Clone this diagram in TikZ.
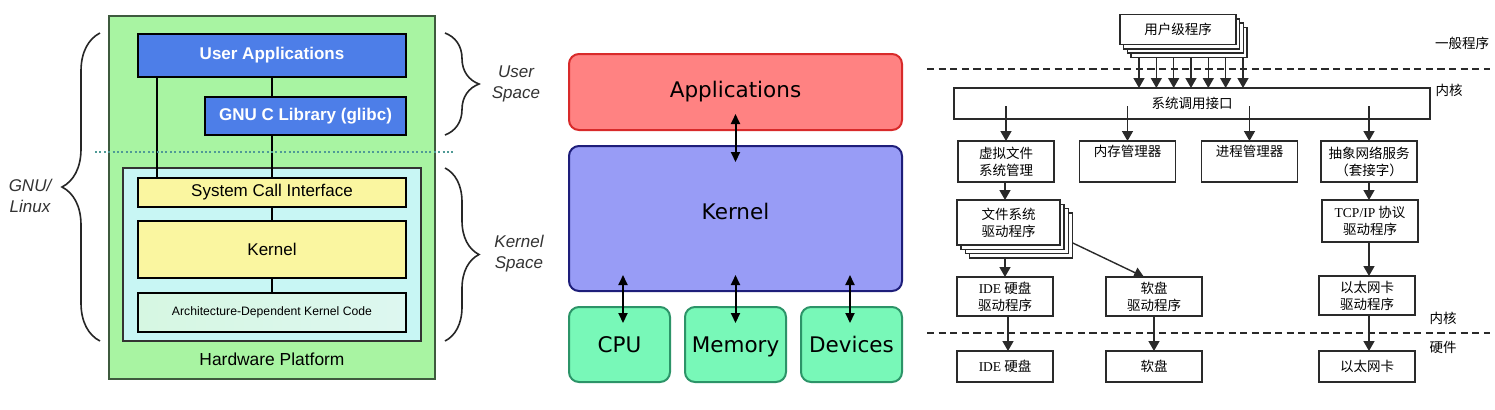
\documentclass[tikz,border=0pt]{standalone}
\usepackage{fontspec}
\setmainfont{Liberation Sans}
\newfontfamily\dvs{DejaVu Sans}
\newfontfamily\cjk{Noto Sans CJK SC}
\newfontfamily\lser{Liberation Serif}
\usetikzlibrary{calc,arrows.meta,decorations.pathreplacing}
\definecolor{hwgreen}{HTML}{A8F4A2}
\definecolor{hwborder}{HTML}{3E5A3E}
\definecolor{ublue}{HTML}{4D7EE8}
\definecolor{kcyan}{HTML}{C8F6F4}
\definecolor{kyellow}{HTML}{FAF6A0}
\definecolor{archg}{HTML}{D6F7E2}
\definecolor{archc}{HTML}{DDF7F0}
\definecolor{dotteal}{HTML}{4F9A96}
\definecolor{lbl}{HTML}{333333}
\definecolor{appred}{HTML}{FF8282}
\definecolor{appborder}{HTML}{D82A2A}
\definecolor{kernblue}{HTML}{989CF6}
\definecolor{kernborder}{HTML}{1E1E7A}
\definecolor{hwmint}{HTML}{78F8B8}
\definecolor{mintborder}{HTML}{2C9468}
\definecolor{p3line}{HTML}{2A2A2A}
\tikzset{
  p1box/.style={draw=black, line width=1pt, inner sep=0pt, outer sep=0pt},
  p1blue/.style={p1box, fill=ublue, text=white, font=\fontsize{8.5}{10}\selectfont\bfseries},
  p1yel/.style={p1box, fill=kyellow, font=\fontsize{8.5}{10}\selectfont},
  p1lbl/.style={text=lbl, font=\fontsize{8.5}{10.5}\selectfont\itshape, align=center},
  p1link/.style={line width=1pt, draw=black},
  p1brace/.style={draw=black!85, line width=0.8pt, decorate},
  p2box/.style={rounded corners=5pt, line width=1pt, inner sep=0pt, outer sep=0pt, font=\dvs\fontsize{10.75}{13}\selectfont},
  p2arr/.style={line width=1pt, {Triangle[length=5pt,width=4.5pt]}-{Triangle[length=5pt,width=4.5pt]}},
  p3box/.style={draw=p3line, line width=0.75pt, fill=white, inner sep=0pt, outer sep=0pt, align=center, font=\cjk\fontsize{6.75}{8.5}\selectfont},
  p3arr/.style={draw=p3line, line width=0.7pt, -{Triangle[length=5pt,width=5.5pt]}},
  p3dash/.style={draw=p3line, line width=0.7pt, dash pattern=on 3.6pt off 2.2pt},
  p3lbl/.style={font=\cjk\fontsize{6.75}{8.5}\selectfont}
}
\begin{document}
\begin{tikzpicture}[x=0.5pt,y=-0.5pt]
\useasboundingbox (0,0) rectangle (1495,409);
\fill[white] (0,0) rectangle (1495,409);

% ================= Panel 1 =================
\node[draw=hwborder, line width=1pt, fill=hwgreen, minimum width=163pt, minimum height=181.5pt, inner sep=0pt] (hw) at (272,197.5) {};
\node[font=\fontsize{8.7}{10}\selectfont] (hwt) at (272,359) {Hardware Platform};
\node[draw=black!80, line width=0.8pt, fill=kcyan, minimum width=149pt, minimum height=86.5pt, inner sep=0pt] (ks) at (272,254.5) {};
\node[p1blue, minimum width=134pt, minimum height=21.5pt] (ua) at (272,55.5) {User Applications};
\node[p1blue, minimum width=100.5pt, minimum height=19pt] (glibc) at (305.5,116) {GNU C Library (glibc)};
\node[p1yel, minimum width=134pt, minimum height=14.5pt] (sci) at (272,192.5) {System Call Interface};
\node[p1yel, minimum width=134pt, minimum height=28.5pt] (kern) at (272,249.5) {Kernel};
\node[p1box, left color=archg, right color=archc, minimum width=134pt, minimum height=19.5pt, font=\fontsize{6.1}{7}\selectfont] (arch) at (272,312.5) {Architecture-Dependent Kernel Code};
\coordinate (xa) at (157,0);
\coordinate (xb) at (272,0);
\draw[p1link] (xa |- ua.south) -- (xa |- sci.north);
\draw[p1link] (xb |- ua.south) -- (xb |- glibc.north);
\draw[p1link] (xb |- glibc.south) -- (sci.north);
\draw[p1link] (sci.south) -- (kern.north);
\draw[p1link] (kern.south) -- (arch.north);
\coordinate (dl) at (95,152);
\coordinate (dr) at (455,152);
\draw[dotteal, line width=1pt, dash pattern=on 1pt off 1.2pt] (dl) -- (dr);
% braces
\coordinate (lbB) at (100,341);
\coordinate (lbT) at (100,33);
\draw[p1brace, decoration={brace, amplitude=19pt}] (lbB) -- (lbT);
\coordinate (ubT) at (445,33);
\coordinate (ubB) at (445,135);
\draw[p1brace, decoration={brace, amplitude=17pt}] (ubT) -- (ubB);
\coordinate (kbT) at (445,168);
\coordinate (kbB) at (445,341);
\draw[p1brace, decoration={brace, amplitude=17pt}] (kbT) -- (kbB);
\node[p1lbl] (gnul) at (30,196) {GNU/\\Linux};
\node[p1lbl] (usl) at (516,84) {User\\Space};
\node[p1lbl] (ksl) at (519,254) {Kernel\\Space};

% ================= Panel 2 =================
\node[p2box, draw=appborder, fill=appred, minimum width=166.5pt, minimum height=38pt] (app) at (735.5,92) {Applications};
\node[p2box, draw=kernborder, fill=kernblue, minimum width=166.5pt, minimum height=72.5pt] (k2) at (735.5,218.5) {\raisebox{-0.65pt}[0pt][0pt]{Kernel}};
\node[p2box, draw=mintborder, fill=hwmint, minimum width=50.5pt, minimum height=37.5pt] (cpu) at (619.5,344.5) {\raisebox{-4.15pt}[0pt][0pt]{CPU}};
\node[p2box, draw=mintborder, fill=hwmint, minimum width=50.5pt, minimum height=37.5pt] (mem) at (735.5,344.5) {\raisebox{-4.15pt}[0pt][0pt]{Memory}};
\node[p2box, draw=mintborder, fill=hwmint, minimum width=50.5pt, minimum height=37.5pt] (dev) at (851.5,344.5) {\raisebox{-4.15pt}[0pt][0pt]{Devices}};
\draw[p2arr] ($(app.south)+(0,-16)$) -- ($(k2.north)+(0,16)$);
\draw[p2arr] ($(k2.south -| cpu.north)+(3.5,-16)$) -- ($(cpu.north)+(3.5,16)$);
\draw[p2arr] ($(k2.south)+(0,-16)$) -- ($(mem.north)+(0,16)$);
\draw[p2arr] ($(k2.south -| dev.north)+(-1.5,-16)$) -- ($(dev.north)+(-1.5,16)$);

% ================= Panel 3 =================
\coordinate (d1l) at (927,69);
\coordinate (d1r) at (1490,69);
\draw[p3dash] (d1l) -- (d1r);
\coordinate (d2l) at (927,333);
\coordinate (d2r) at (1490,333);
\draw[p3dash] (d2l) -- (d2r);
\node[p3lbl] (lg) at (1462,43) {一般程序};
\node[p3lbl] (lk1) at (1449,90) {内核};
\node[p3lbl] (lk2) at (1443,318) {内核};
\node[p3lbl] (lh) at (1443,347) {硬件};

% user-level programs stack
\foreach \k in {3,2,1}
  \node[p3box, minimum width=58pt, minimum height=15pt] (U\k) at (1178+\k*3.7,29.5+\k*4.3) {};
\node[p3box, minimum width=58pt, minimum height=15pt] (U) at (1178,29.5) {用户级程序};
% system call interface
\node[p3box, minimum width=238pt, minimum height=15.5pt] (sc) at (1192,103.5) {系统调用接口};
\foreach \i in {0,...,6} {
  \coordinate (a\i) at (1139+\i*17.33,0);
  \draw[p3arr] (a\i |- U3.south) -- (a\i |- sc.north);
}
% row 2
\node[p3box, minimum width=48pt, minimum height=20.5pt] (vfs) at (1006,161.5) {虚拟文件\\系统管理};
\node[p3box, minimum width=48pt, minimum height=20.5pt] (mm) at (1127.5,161.5) {内存管理器\\\strut};
\node[p3box, minimum width=48pt, minimum height=20.5pt] (pm) at (1249.5,161.5) {进程管理器\\\strut};
\node[p3box, minimum width=48pt, minimum height=20.5pt] (net) at (1369,161.5) {抽象网络服务\\（套接字）};
\coordinate (scin) at ($(sc.south)+(0,-13)$);
\draw[p3arr] (vfs.north |- scin) -- (vfs.north);
\draw[p3arr] (mm.north |- scin) -- (mm.north);
\draw[p3arr] (pm.north |- scin) -- (pm.north);
\draw[p3arr] (net.north |- scin) -- (net.north);
% row 3: fs driver stack and tcp/ip
\foreach \k in {3,2,1}
  \node[p3box, minimum width=51.5pt, minimum height=22.5pt] (F\k) at (1008.5+\k*4.2,222.5+\k*4.3) {};
\node[p3box, minimum width=51.5pt, minimum height=22.5pt] (fs) at (1008.5,222.5) {文件系统\\驱动程序};
\node[p3box, minimum width=48pt, minimum height=21pt] (tcp) at (1370,221) {{\lser TCP/IP} 协议\\驱动程序};
\coordinate (vx) at (1005,0);
\draw[p3arr] (vx |- vfs.south) -- (vx |- fs.north);
\draw[p3arr] (net.south) -- (net.south |- tcp.north);
% row 4: drivers
\node[p3box, minimum width=48pt, minimum height=19.5pt] (ided) at (1005,296.5) {{\lser IDE} 硬盘\\驱动程序};
\node[p3box, minimum width=48pt, minimum height=19.5pt] (fddd) at (1154,296.5) {软盘\\驱动程序};
\node[p3box, minimum width=48pt, minimum height=19.5pt] (ethd) at (1367,295.5) {以太网卡\\驱动程序};
\draw[p3arr] (vx |- F3.south) -- (vx |- ided.north);
\draw[p3arr] ($(F3.east)+(0,7.5)$) -- ($(fddd.north)+(-10,0)$);
\draw[p3arr] (tcp.south -| net.south) -- (net.south |- ethd.north);
% row 5: hardware
\node[p3box, minimum width=48pt, minimum height=15.5pt] (ide) at (1005,366.5) {{\lser IDE} 硬盘};
\node[p3box, minimum width=48pt, minimum height=15.5pt] (fdd) at (1154,366.5) {软盘};
\node[p3box, minimum width=48pt, minimum height=15.5pt] (eth) at (1367,366.5) {以太网卡};
\coordinate (ix) at (1008,0);
\draw[p3arr] (ix |- ided.south) -- (ix |- ide.north);
\draw[p3arr] (fddd.south) -- (fdd.north);
\draw[p3arr] (ethd.south -| net.south) -- (net.south |- eth.north);
\end{tikzpicture}
\end{document}
